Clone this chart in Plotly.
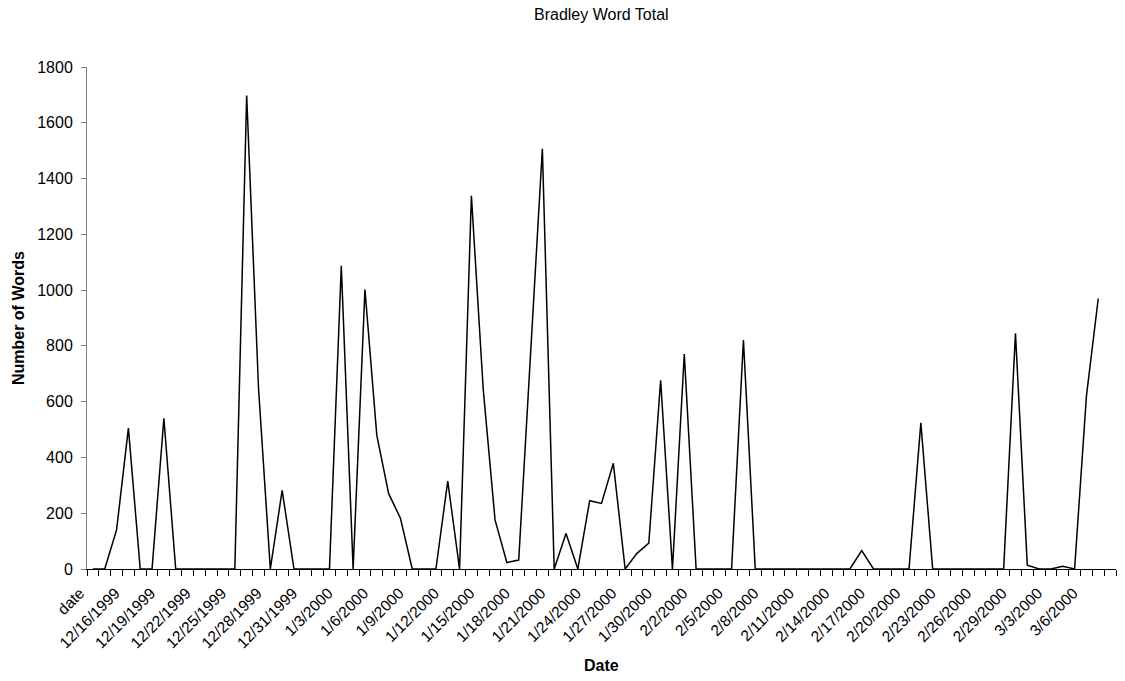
import pandas as pd
import plotly.graph_objects as go

# Category labels: a header cell followed by one entry per day
day_labels = [f"{d.month}/{d.day}/{d.year}" for d in pd.date_range("1999-12-14", "2000-03-08")]
categories = ["date"] + day_labels

# Daily word counts (last day has no entry)
words = [
    0, 0, 140, 505, 0, 0, 540, 0, 0, 0,
    0, 0, 0, 1698, 650, 0, 282, 0, 0, 0,
    0, 1087, 0, 1002, 480, 271, 182, 0, 0, 0,
    315, 0, 1338, 645, 176, 23, 32, 770, 1507, 0,
    127, 0, 245, 235, 379, 0, 56, 93, 677, 0,
    771, 0, 0, 0, 0, 821, 0, 0, 0, 0,
    0, 0, 0, 0, 0, 66, 0, 0, 0, 0,
    524, 0, 0, 0, 0, 0, 0, 0, 845, 14,
    0, 0, 10, 0, 620, 970, None,
]

positions = list(range(len(categories)))
label_positions = positions[::3]
label_text = categories[::3]

fig = go.Figure(
    go.Scatter(
        x=positions,
        y=words,
        mode="lines",
        line=dict(color="black", width=1.5),
        connectgaps=False,
        hoverinfo="x+y",
    )
)

font_family = "Liberation Sans, Arial, sans-serif"

fig.update_layout(
    width=1125,
    height=681,
    margin=dict(l=87, r=9, t=67, b=112),
    paper_bgcolor="white",
    plot_bgcolor="white",
    showlegend=False,
    font=dict(family=font_family, size=16, color="black"),
    xaxis=dict(
        range=[-0.5, len(categories) - 0.5],
        tickmode="array",
        tickvals=label_positions,
        ticktext=label_text,
        tickangle=-45,
        ticks="",
        showgrid=False,
        zeroline=False,
        showline=True,
        linecolor="black",
        linewidth=1,
        tickfont=dict(size=15.5),
        ticklabelshift=-13,
        ticklabelstandoff=8,
        minor=dict(
            tickmode="linear",
            tick0=-0.5,
            dtick=1,
            ticks="outside",
            ticklen=6,
            tickcolor="black",
            tickwidth=1,
            showgrid=False,
        ),
    ),
    yaxis=dict(
        range=[0, 1800],
        tick0=0,
        dtick=200,
        ticks="outside",
        ticklen=5,
        tickcolor="#808080",
        showgrid=False,
        zeroline=False,
        showline=True,
        linecolor="#808080",
        linewidth=1,
        tickfont=dict(size=16),
        ticklabelstandoff=5,
    ),
    annotations=[
        dict(
            text="Bradley Word Total",
            xref="paper", yref="paper", x=0.5, y=1.1036,
            xanchor="center", yanchor="middle", showarrow=False,
            font=dict(size=16),
        ),
        dict(
            text="<b>Date</b>",
            xref="paper", yref="paper", x=0.5, y=-0.193,
            xanchor="center", yanchor="middle", showarrow=False,
            font=dict(size=16),
        ),
        dict(
            text="<b>Number of Words</b>",
            xref="paper", yref="paper", x=-0.067, y=0.5,
            xanchor="center", yanchor="middle", showarrow=False,
            textangle=-90,
            font=dict(size=16),
        ),
    ],
)

fig.write_html("out.html")
